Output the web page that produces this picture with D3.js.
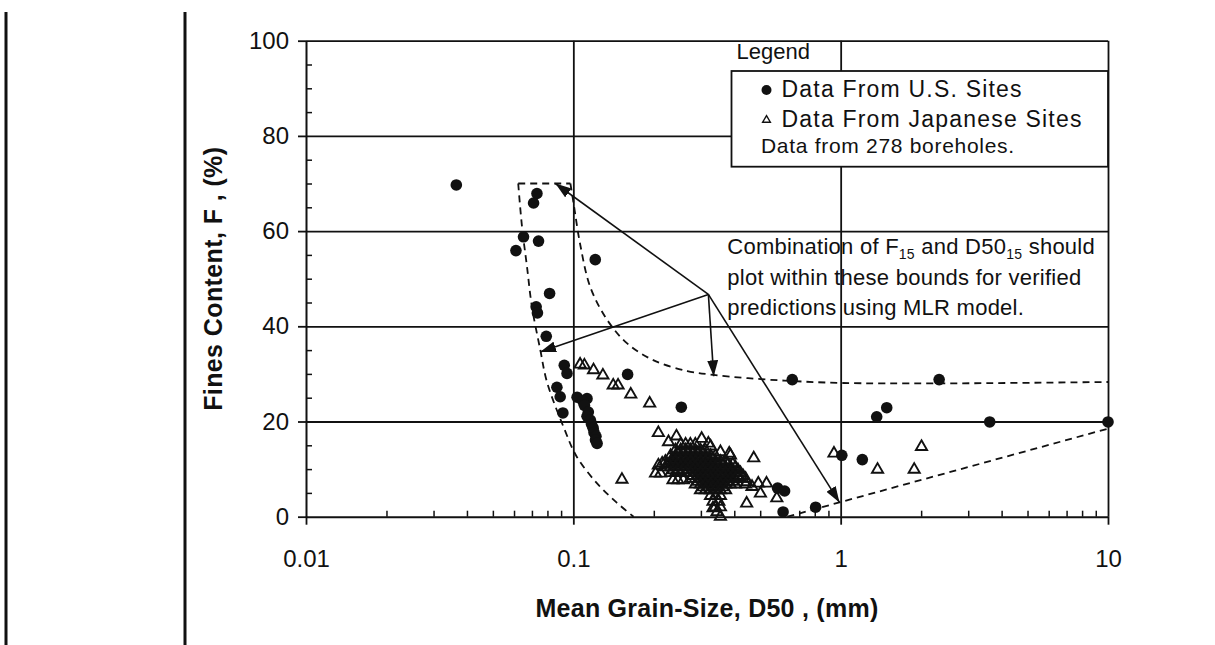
<!DOCTYPE html>
<html>
<head>
<meta charset="utf-8">
<script src="https://cdn.jsdelivr.net/npm/d3@7"></script>
<style>
  html, body { margin: 0; padding: 0; background: #fff; }
  svg { display: block; font-family: "Liberation Sans", Arial, Helvetica, sans-serif; }
</style>
</head>
<body>
<svg id="chart" width="1215" height="645"></svg>
<script>
// ---- axis ticks ----
const xTickValues = [0.01, 0.1, 1, 10];
const xTickLabels = ["0.01", "0.1", "1", "10"];
const xMinorTicks = [0.02, 0.03, 0.04, 0.05, 0.06, 0.07, 0.08, 0.09,
                     0.2, 0.3, 0.4, 0.5, 0.6, 0.7, 0.8, 0.9,
                     2, 3, 4, 5, 6, 7, 8, 9];
const xGridValues = [0.1, 1, 10];
const yTickValues = [0, 20, 40, 60, 80, 100];
const yTickLabels = ["0", "20", "40", "60", "80", "100"];
const yMinorTicks = [5, 10, 15, 25, 30, 35, 45, 50, 55, 65, 70, 75, 85, 90, 95];
const yGridValues = [20, 40, 60, 80, 100];

// ---- U.S. sites: [D50 (mm), fines content (%)] ----
const usSites = [
  [0.0365, 69.7], [0.0731, 67.9], [0.0710, 65.9], [0.0651, 58.8], [0.0741, 57.9],
  [0.0610, 55.9], [0.1208, 54.0], [0.0815, 46.9], [0.0726, 44.1], [0.0734, 42.8],
  [0.0792, 37.9], [0.0925, 31.8], [0.0947, 30.1], [0.1596, 29.9], [0.0868, 27.2],
  [0.0893, 25.2], [0.0914, 21.8], [0.1033, 25.1], [0.1125, 24.8], [0.1085, 24.3],
  [0.1100, 23.4], [0.1138, 22.0], [0.1125, 21.1], [0.1158, 20.3], [0.1170, 19.4],
  [0.1186, 18.6], [0.1195, 17.7], [0.1215, 16.9], [0.1210, 16.1], [0.1227, 15.4],
  [0.2535, 23.0], [0.581, 6.0], [0.617, 5.4], [0.609, 1.0], [0.806, 2.0],
  [0.659, 28.8], [2.335, 28.8], [1.364, 21.0], [1.487, 22.9], [3.61, 19.9],
  [10.0, 19.9], [1.01, 12.9], [1.205, 12.0]
];

// ---- Japanese sites: [D50 (mm), fines content (%)] ----
const japaneseSites = [
  [0.106, 32.0], [0.110, 31.8], [0.119, 30.8], [0.129, 29.7], [0.141, 27.6],
  [0.147, 27.6], [0.164, 25.7], [0.193, 23.8], [0.152, 7.8],
  [0.208, 17.6], [0.227, 15.7], [0.243, 16.9], [0.302, 16.4], [0.320, 15.4],
  [0.326, 14.8], [0.355, 13.6], [0.383, 13.3], [0.387, 12.9], [0.473, 12.3],
  [0.492, 7.0], [0.528, 7.0], [0.501, 4.9], [0.577, 3.9], [0.445, 2.8],
  [0.333, 1.8], [0.355, 0.0],
  [0.203, 9.1], [0.212, 9.1], [0.208, 10.8], [0.215, 11.2], [0.234, 11.2],
  [0.236, 7.7], [0.246, 7.7], [0.258, 7.7],
  [0.412, 8.4], [0.445, 7.3], [0.466, 6.3],
  [0.944, 13.3], [1.374, 9.9], [1.884, 9.9], [2.006, 14.7],
  // dense group around 0.2 - 0.45 mm
  [0.252, 15.2], [0.263, 15.2], [0.274, 15.2], [0.286, 15.2],
  [0.246, 13.4], [0.257, 13.4], [0.268, 13.4], [0.280, 13.4], [0.292, 13.4], [0.305, 13.4],
  [0.241, 14.0], [0.252, 14.0], [0.263, 14.0], [0.274, 14.0], [0.286, 14.0], [0.299, 14.0], [0.312, 14.0],
  [0.231, 12.8], [0.241, 12.8], [0.252, 12.8], [0.263, 12.8], [0.274, 12.8], [0.286, 12.8],
  [0.299, 12.8], [0.312, 12.8], [0.326, 12.8], [0.340, 12.8],
  [0.236, 12.2], [0.246, 12.2], [0.257, 12.2], [0.268, 12.2], [0.280, 12.2], [0.292, 12.2],
  [0.305, 12.2], [0.319, 12.2], [0.333, 12.2],
  [0.221, 11.6], [0.231, 11.6], [0.241, 11.6], [0.252, 11.6], [0.263, 11.6], [0.274, 11.6],
  [0.286, 11.6], [0.299, 11.6], [0.312, 11.6], [0.326, 11.6], [0.340, 11.6], [0.355, 11.6], [0.371, 11.6],
  [0.226, 11.0], [0.236, 11.0], [0.246, 11.0], [0.257, 11.0], [0.268, 11.0], [0.280, 11.0],
  [0.292, 11.0], [0.305, 11.0], [0.319, 11.0], [0.333, 11.0], [0.347, 11.0], [0.363, 11.0],
  [0.379, 11.0], [0.395, 11.0],
  [0.221, 10.4], [0.231, 10.4], [0.241, 10.4], [0.252, 10.4], [0.263, 10.4], [0.274, 10.4],
  [0.286, 10.4], [0.299, 10.4], [0.312, 10.4], [0.326, 10.4], [0.340, 10.4], [0.355, 10.4],
  [0.371, 10.4], [0.387, 10.4], [0.404, 10.4],
  [0.236, 9.8], [0.246, 9.8], [0.257, 9.8], [0.268, 9.8], [0.280, 9.8], [0.292, 9.8],
  [0.305, 9.8], [0.319, 9.8], [0.333, 9.8], [0.347, 9.8], [0.363, 9.8], [0.379, 9.8],
  [0.395, 9.8], [0.413, 9.8],
  [0.231, 9.2], [0.241, 9.2], [0.252, 9.2], [0.263, 9.2], [0.274, 9.2], [0.286, 9.2],
  [0.299, 9.2], [0.312, 9.2], [0.326, 9.2], [0.340, 9.2], [0.355, 9.2], [0.371, 9.2],
  [0.387, 9.2], [0.404, 9.2], [0.422, 9.2],
  [0.280, 8.6], [0.292, 8.6], [0.305, 8.6], [0.319, 8.6], [0.333, 8.6], [0.347, 8.6],
  [0.363, 8.6], [0.379, 8.6], [0.395, 8.6], [0.413, 8.6], [0.431, 8.6],
  [0.274, 8.0], [0.286, 8.0], [0.299, 8.0], [0.312, 8.0], [0.326, 8.0], [0.340, 8.0],
  [0.355, 8.0], [0.371, 8.0], [0.387, 8.0], [0.404, 8.0], [0.422, 8.0], [0.441, 8.0],
  [0.292, 7.4], [0.305, 7.4], [0.319, 7.4], [0.333, 7.4], [0.347, 7.4], [0.363, 7.4],
  [0.379, 7.4], [0.395, 7.4],
  [0.286, 6.8], [0.299, 6.8], [0.312, 6.8], [0.326, 6.8], [0.340, 6.8], [0.355, 6.8],
  [0.371, 6.8], [0.387, 6.8], [0.404, 6.8], [0.441, 6.8],
  [0.305, 6.2], [0.319, 6.2], [0.333, 6.2], [0.347, 6.2], [0.363, 6.2],
  [0.299, 5.6], [0.312, 5.6], [0.326, 5.6], [0.340, 5.6], [0.355, 5.6], [0.371, 5.6],
  [0.326, 4.4], [0.340, 4.4], [0.355, 4.4],
  [0.333, 3.2], [0.350, 3.2],
  [0.340, 2.0], [0.355, 2.0],
  [0.345, 1.0]
];

// ---- bounds of verified predictions (dashed) ----
const boundTop = [[0.0622, 70], [0.0975, 70]];
const boundLeft = [
  [0.0622, 70], [0.0643, 60.8], [0.0671, 52.5], [0.0700, 44.1], [0.0752, 35.1],
  [0.0797, 28.3], [0.0920, 18.8], [0.1030, 12.6], [0.1227, 7.0], [0.1450, 3.0],
  [0.1680, 0]
];
const boundRight = [
  [0.0975, 70], [0.1003, 65.7], [0.1060, 57.3], [0.1158, 48.2], [0.1340, 41.3],
  [0.1590, 36.4], [0.1990, 32.9], [0.2670, 30.6], [0.3340, 29.8], [0.450, 29.1],
  [0.660, 28.5], [1.00, 28.1], [2.30, 28.0], [10, 28.3]
];
const boundBottom = [[0.632, 0], [10, 18.5]];

// ---- annotation arrows ----
const arrowFrom = [0.32, 46.7];
const arrowTo = [[0.0857, 70], [0.0751, 34.6], [0.335, 29.5], [0.99, 3.0]];

// ---- layout ----
const svg = d3.select("#chart");
const X0 = 306, X1 = 1108, Y0 = 516.7, Y1 = 40.7;
const x = d3.scaleLog().domain([0.01, 10]).range([X0, X1]);
const y = d3.scaleLinear().domain([0, 100]).range([Y0, Y1]);
const ink = "#111";

// page frame rules on the left
svg.append("line").attr("x1", 6).attr("x2", 6).attr("y1", 12).attr("y2", 645)
  .attr("stroke", ink).attr("stroke-width", 3);
svg.append("line").attr("x1", 185).attr("x2", 185).attr("y1", 12).attr("y2", 645)
  .attr("stroke", ink).attr("stroke-width", 3);

// grid lines
const gGridX = svg.append("g").attr("transform", `translate(0,${Y0})`)
  .call(d3.axisBottom(x).tickValues(xGridValues).tickSize(-(Y0 - Y1)).tickFormat(""));
gGridX.select(".domain").remove();
gGridX.selectAll("line").attr("stroke", ink).attr("stroke-width", 1.8);

const gGridY = svg.append("g").attr("transform", `translate(${X0},0)`)
  .call(d3.axisLeft(y).tickValues(yGridValues).tickSize(-(X1 - X0)).tickFormat(""));
gGridY.select(".domain").remove();
gGridY.selectAll("line").attr("stroke", ink).attr("stroke-width", 1.8);

// minor ticks (inward)
const gMinX = svg.append("g").attr("transform", `translate(0,${Y0})`)
  .call(d3.axisBottom(x).tickValues(xMinorTicks).tickSize(-6).tickFormat(""));
gMinX.select(".domain").remove();
gMinX.selectAll("line").attr("stroke", ink).attr("stroke-width", 1.5);

const gMinY = svg.append("g").attr("transform", `translate(${X0},0)`)
  .call(d3.axisLeft(y).tickValues(yMinorTicks).tickSize(-6).tickFormat(""));
gMinY.select(".domain").remove();
gMinY.selectAll("line").attr("stroke", ink).attr("stroke-width", 1.5);

// main axes
const gX = svg.append("g").attr("transform", `translate(0,${Y0})`)
  .call(d3.axisBottom(x).tickValues(xTickValues).tickFormat((d, i) => xTickLabels[i])
    .tickSize(8).tickSizeOuter(0).tickPadding(25));
gX.select(".domain").attr("stroke", ink).attr("stroke-width", 2);
gX.selectAll("line").attr("stroke", ink).attr("stroke-width", 1.8);
gX.selectAll("text").attr("font-size", 24).attr("fill", ink)
  .attr("font-family", "Liberation Sans, Arial, sans-serif");

const gY = svg.append("g").attr("transform", `translate(${X0},0)`)
  .call(d3.axisLeft(y).tickValues(yTickValues).tickFormat((d, i) => yTickLabels[i])
    .tickSize(8).tickSizeOuter(0).tickPadding(9));
gY.select(".domain").attr("stroke", ink).attr("stroke-width", 2);
gY.selectAll("line").attr("stroke", ink).attr("stroke-width", 1.8);
gY.selectAll("text").attr("font-size", 24).attr("fill", ink)
  .attr("font-family", "Liberation Sans, Arial, sans-serif");

// axis titles
svg.append("text").attr("x", (X0 + X1) / 2).attr("y", 617)
  .attr("text-anchor", "middle").attr("font-size", 25).attr("font-weight", "bold")
  .attr("letter-spacing", 0.25).attr("fill", ink)
  .text("Mean Grain-Size, D50 , (mm)");
svg.append("text").attr("transform", `translate(222,${(Y0 + Y1) / 2}) rotate(-90)`)
  .attr("text-anchor", "middle").attr("font-size", 25).attr("font-weight", "bold")
  .attr("letter-spacing", 0.4).attr("fill", ink)
  .text("Fines Content, F , (%)");

// dashed bounds
const lineLin = d3.line().x(d => x(d[0])).y(d => y(d[1]));
const lineSmooth = d3.line().x(d => x(d[0])).y(d => y(d[1])).curve(d3.curveCatmullRom.alpha(0.5));
const dashStyle = sel => sel.attr("fill", "none").attr("stroke", ink)
  .attr("stroke-width", 1.8).attr("stroke-dasharray", "7,5");
svg.append("path").datum(boundTop).attr("d", lineLin).call(dashStyle);
svg.append("path").datum(boundLeft).attr("d", lineSmooth).call(dashStyle);
svg.append("path").datum(boundRight).attr("d", lineSmooth).call(dashStyle);
svg.append("path").datum(boundBottom).attr("d", lineLin).call(dashStyle);

// Japanese sites (open triangles)
const tri = d3.symbol().type(d3.symbolTriangle).size(54);
svg.append("g").selectAll("path").data(japaneseSites).join("path")
  .attr("transform", d => `translate(${x(d[0])},${y(d[1])})`)
  .attr("d", tri).attr("fill", "none").attr("stroke", ink).attr("stroke-width", 1.9);

// U.S. sites (filled circles)
svg.append("g").selectAll("circle").data(usSites).join("circle")
  .attr("cx", d => x(d[0])).attr("cy", d => y(d[1])).attr("r", 5.8).attr("fill", ink);

// arrows
svg.append("defs").append("marker").attr("id", "head")
  .attr("viewBox", "0 0 16 11").attr("refX", 16).attr("refY", 5.5)
  .attr("markerUnits", "userSpaceOnUse").attr("markerWidth", 16).attr("markerHeight", 11)
  .attr("orient", "auto")
  .append("path").attr("d", "M0,0 L16,5.5 L0,11 Z").attr("fill", ink);
svg.append("g").selectAll("line").data(arrowTo).join("line")
  .attr("x1", x(arrowFrom[0])).attr("y1", y(arrowFrom[1]))
  .attr("x2", d => x(d[0])).attr("y2", d => y(d[1]))
  .attr("stroke", ink).attr("stroke-width", 1.6).attr("marker-end", "url(#head)");

// legend
const lg = svg.append("g");
lg.append("rect").attr("x", 731.5).attr("y", 71).attr("width", X1 - 731.5).attr("height", 95.7)
  .attr("fill", "#fff").attr("stroke", ink).attr("stroke-width", 1.8);
lg.append("text").attr("x", 736.5).attr("y", 59.3).attr("font-size", 22).attr("fill", ink)
  .text("Legend");
lg.append("circle").attr("cx", 766.5).attr("cy", 90).attr("r", 5).attr("fill", ink);
lg.append("path").attr("transform", "translate(766.5,120)")
  .attr("d", d3.symbol().type(d3.symbolTriangle).size(26))
  .attr("fill", "none").attr("stroke", ink).attr("stroke-width", 1.4);
lg.append("text").attr("x", 781.5).attr("y", 97.3).attr("font-size", 23)
  .attr("letter-spacing", 1.2).attr("fill", ink).text("Data From U.S. Sites");
lg.append("text").attr("x", 781.5).attr("y", 126.7).attr("font-size", 23)
  .attr("letter-spacing", 1.2).attr("fill", ink).text("Data From Japanese Sites");
lg.append("text").attr("x", 761).attr("y", 153.3).attr("font-size", 21)
  .attr("letter-spacing", 0.7).attr("fill", ink).text("Data from 278 boreholes.");

// annotation text
const note = svg.append("text").attr("x", 727.3).attr("y", 253.5)
  .attr("font-size", 22).attr("letter-spacing", 0.25).attr("fill", ink);
note.append("tspan").text("Combination of F");
note.append("tspan").attr("font-size", 14).attr("dy", 5).text("15");
note.append("tspan").attr("dy", -5).text(" and D50");
note.append("tspan").attr("font-size", 14).attr("dy", 5).text("15");
note.append("tspan").attr("dy", -5).text(" should");
svg.append("text").attr("x", 727.3).attr("y", 284.5).attr("font-size", 22)
  .attr("letter-spacing", 0.25).attr("fill", ink).text("plot within these bounds for verified");
svg.append("text").attr("x", 727.3).attr("y", 315).attr("font-size", 22)
  .attr("letter-spacing", 0.25).attr("fill", ink).text("predictions using MLR model.");
</script>
</body>
</html>
